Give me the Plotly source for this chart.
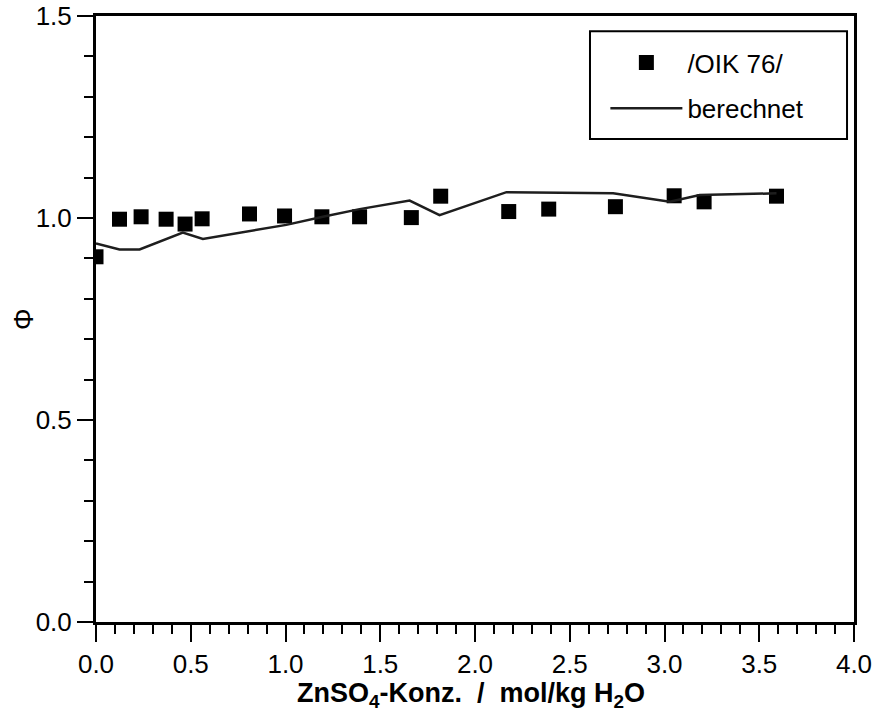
import plotly.graph_objects as go

# measured osmotic coefficients
conc_meas = [0.0, 0.124, 0.238, 0.37, 0.47, 0.56, 0.81, 0.995, 1.192, 1.391,
             1.664, 1.819, 2.178, 2.389, 2.741, 3.051, 3.209, 3.591]
phi_meas = [0.904, 0.997, 1.003, 0.997, 0.985, 0.998, 1.010, 1.005, 1.003, 1.003,
            1.001, 1.054, 1.016, 1.022, 1.028, 1.055, 1.040, 1.054]

# calculated curve
conc_calc = [0.0, 0.124, 0.23, 0.458, 0.564, 1.004, 1.197, 1.391, 1.655, 1.813,
             2.166, 2.729, 3.028, 3.186, 3.591]
phi_calc = [0.937, 0.922, 0.922, 0.964, 0.948, 0.983, 1.003, 1.022, 1.043, 1.007,
            1.064, 1.061, 1.040, 1.057, 1.061]

x_ticks = [0.0, 0.5, 1.0, 1.5, 2.0, 2.5, 3.0, 3.5, 4.0]
y_ticks = [0.0, 0.5, 1.0, 1.5]

x_title = "<b>ZnSO<sub>4</sub>-Konz.  /  mol/kg H<sub>2</sub>O</b>"
y_title = "Φ"

FONT = "Liberation Sans, Arial, Helvetica, sans-serif"

fig = go.Figure()
fig.add_trace(go.Scatter(
    x=conc_meas, y=phi_meas, mode="markers", name="/OIK 76/",
    legendgroup="a",
    marker=dict(symbol="square", size=15, color="black"),
))
fig.add_trace(go.Scatter(
    x=conc_calc, y=phi_calc, mode="lines", name="berechnet",
    legendgroup="b",
    line=dict(color="#1e1e1e", width=2.5),
))

axis_common = dict(
    showline=True, linecolor="black", linewidth=3, mirror=True,
    showgrid=False, zeroline=False, ticks="outside", tickcolor="black",
    tickwidth=2, tickformat=".1f", automargin=False,
    tickfont=dict(family=FONT, size=26, color="black"),
)

fig.update_xaxes(
    range=[0, 4], tickvals=x_ticks, ticklen=17,
    minor=dict(dtick=0.1, ticks="outside", ticklen=9, tickwidth=2, tickcolor="black"),
    **axis_common,
)
fig.update_yaxes(
    range=[0, 1.5], tickvals=y_ticks, ticklen=16,
    minor=dict(dtick=0.1, ticks="outside", ticklen=9, tickwidth=2, tickcolor="black"),
    **axis_common,
)

# axis titles placed explicitly in the margins
fig.add_annotation(
    text=x_title, xref="paper", yref="paper", x=0.495, y=-0.121,
    xanchor="center", yanchor="middle", showarrow=False,
    font=dict(family=FONT, size=27, color="black"),
)
fig.add_annotation(
    text=y_title, xref="paper", yref="paper", x=-0.095, y=0.5,
    xanchor="center", yanchor="middle", showarrow=False, textangle=-90,
    font=dict(family=FONT, size=27, color="black"),
)

# frame around the legend
fig.add_shape(
    type="rect", xref="paper", yref="paper",
    x0=0.6517, x1=0.9908, y0=0.797, y1=0.975,
    line=dict(color="black", width=2), fillcolor="white", layer="below",
)

fig.update_layout(
    width=876, height=711,
    margin=dict(l=96, r=22, t=16, b=89),
    plot_bgcolor="white", paper_bgcolor="white",
    showlegend=True,
    legend=dict(
        x=0.672, y=0.962, xanchor="left", yanchor="top",
        borderwidth=0, bgcolor="rgba(0,0,0,0)",
        font=dict(family=FONT, size=26, color="black"),
        itemwidth=72, tracegroupgap=9,
    ),
)

fig.write_html("out.html")
